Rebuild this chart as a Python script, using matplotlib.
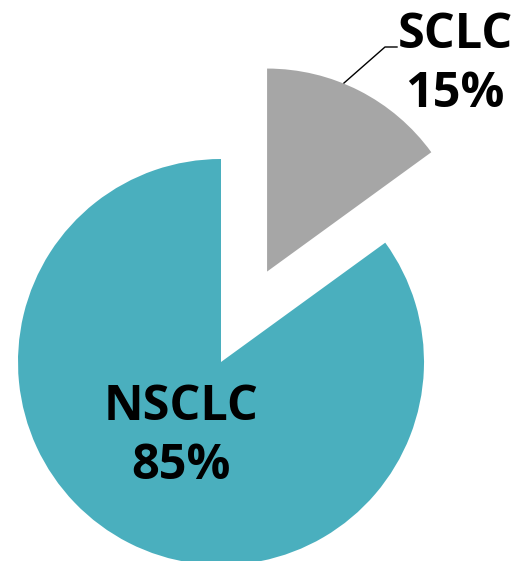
import matplotlib
matplotlib.use("Agg")
import matplotlib.pyplot as plt

categories = ["SCLC", "NSCLC"]
values = [15, 85]
pct_labels = ["15%", "85%"]
colors = ["#A6A6A6", "#4AAFBE"]

W, H = 516, 561
fig = plt.figure(figsize=(W / 100, H / 100), dpi=100)
ax = fig.add_axes([0, 0, 1, 1])
ax.set_xlim(0, W)
ax.set_ylim(0, H)
ax.set_aspect("equal")
ax.axis("off")

cx, cy, R = 221, H - 362, 203
ax.pie(values, colors=colors, startangle=90, counterclock=False,
       explode=[0.5 * R, 0], center=(cx, cy), radius=R,
       wedgeprops=dict(linewidth=0))
ax.set_xlim(0, W)
ax.set_ylim(0, H)

font = dict(family=["Open Sans", "DejaVu Sans"], fontweight="bold",
            fontsize=35, color="black", ha="center", va="center",
            linespacing=1.28)
# SCLC label (outside, with leader line)
ax.text(cx + 234, cy + 297, f"{categories[0]}\n{pct_labels[0]}", **font)
ax.plot([cx + 123, cx + 164, cx + 176], [cy + 279, cy + 315, cy + 315],
        color="black", lw=1)
# NSCLC label (inside)
ax.text(cx - 40, cy - 75, f"{categories[1]}\n{pct_labels[1]}", **font)

fig.savefig("out.png", dpi=100)
